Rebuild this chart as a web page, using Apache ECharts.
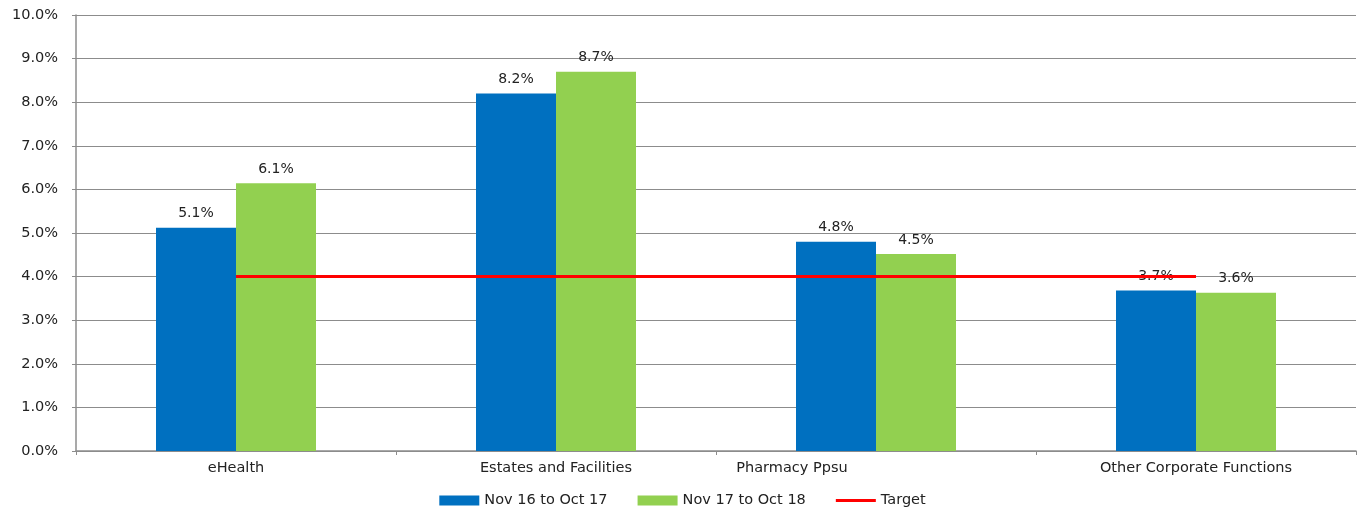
<!DOCTYPE html>
<html>
<head>
<meta charset="utf-8">
<script src="https://cdn.jsdelivr.net/npm/echarts@6/dist/echarts.min.js"></script>
<style>
  html, body { margin: 0; padding: 0; background: #fff; }
  #chart { width: 1365px; height: 509px; }
</style>
</head>
<body>
<div id="chart"></div>
<script>
const categories = ['eHealth', 'Estates and Facilities', 'Pharmacy Ppsu', 'Other Corporate Functions'];
const seriesNames = ['Nov 16 to Oct 17', 'Nov 17 to Oct 18', 'Target'];
const prevYear = [5.12, 8.2, 4.8, 3.68];
const currYear = [6.14, 8.7, 4.52, 3.63];
const target = [4, 4, 4, 4];

const labelFont = 'DejaVu Sans';
const axisGrey = '#8c8c8c';

const chart = echarts.init(document.getElementById('chart'));

const barLabel = {
  show: true,
  position: 'top',
  distance: 7,
  color: '#222',
  fontFamily: labelFont,
  fontSize: 14,
  formatter: p => p.value.toFixed(1) + '%'
};

chart.setOption({
  animation: false,
  grid: { left: 76, right: 9, top: 15, bottom: 58, containLabel: false },
  legend: {
    top: 488,
    left: 'center',
    itemWidth: 40,
    itemHeight: 10,
    itemGap: 30,
    textStyle: { fontFamily: labelFont, fontSize: 14.5, color: '#222' },
    data: [
      { name: seriesNames[0], icon: 'rect' },
      { name: seriesNames[1], icon: 'rect' },
      { name: seriesNames[2], icon: 'path://M0,0 L40,0 L40,3 L0,3 Z' }
    ]
  },
  xAxis: [
    {
      type: 'category',
      data: categories.map(c => c === 'Pharmacy Ppsu'
        ? { value: c, textStyle: { padding: [0, 168, 0, 0] } }
        : c),
      axisLine: { lineStyle: { color: axisGrey, width: 1.5 } },
      axisTick: { show: true, length: 4, lineStyle: { color: axisGrey } },
      axisLabel: { color: '#222', fontFamily: labelFont, fontSize: 14.5, margin: 10, interval: 0 }
    },
    {
      type: 'category',
      data: categories,
      show: false
    }
  ],
  yAxis: {
    type: 'value',
    min: 0,
    max: 10,
    interval: 1,
    axisLine: { show: true, lineStyle: { color: axisGrey, width: 1.5 } },
    axisTick: { show: true, length: 4, lineStyle: { color: axisGrey } },
    splitLine: { lineStyle: { color: axisGrey, width: 1 } },
    axisLabel: {
      color: '#222',
      fontFamily: labelFont,
      fontSize: 14.5,
      margin: 18,
      formatter: v => v.toFixed(1) + '%'
    }
  },
  series: [
    {
      name: seriesNames[0],
      type: 'bar',
      data: prevYear,
      barGap: '0%',
      barCategoryGap: '50%',
      itemStyle: { color: '#0070C0' },
      label: barLabel
    },
    {
      name: seriesNames[1],
      type: 'bar',
      data: currYear,
      itemStyle: { color: '#92D050' },
      label: barLabel
    },
    {
      name: seriesNames[2],
      type: 'line',
      xAxisIndex: 1,
      data: target,
      symbol: 'none',
      lineStyle: { color: '#FF0000', width: 3 },
      itemStyle: { color: '#FF0000' },
      z: 5
    }
  ]
});
</script>
</body>
</html>
